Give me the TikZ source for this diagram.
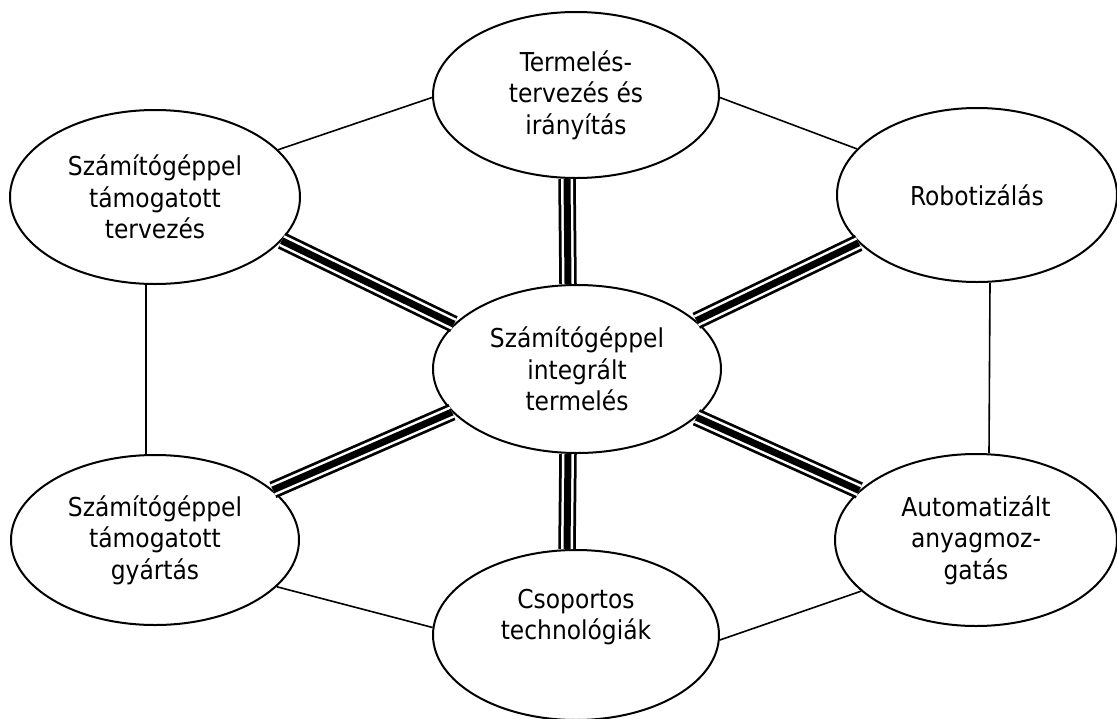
\documentclass[tikz,border=0pt]{standalone}
\usepackage{fontspec}
\setmainfont{DejaVu Sans Condensed}
\usetikzlibrary{shapes.geometric}
\begin{document}
\begin{tikzpicture}[x=1pt,y=-1pt,
  bubble/.style={draw, line width=2pt, ellipse, inner sep=0pt,
    align=center, font=\fontsize{26}{31.5}\selectfont},
  thinlink/.style={line width=1.6pt},
  tripleline/.style={preaction={draw=black, line width=17.5pt},
    draw=white, line width=12pt,
    postaction={draw=black, line width=7pt}}]
\useasboundingbox (0,0) rectangle (1117,718);
% the six surrounding fields and the centre
\node[bubble, minimum width=288pt, minimum height=168pt] (cim) at (577,369)
  {Számítógéppel\\integrált\\termelés};
\node[bubble, minimum width=286pt, minimum height=166pt] (top) at (576,95)
  {Termelés-\\tervezés és\\irányítás};
\node[bubble, minimum width=290pt, minimum height=174pt] (ul) at (155,197)
  {Számítógéppel\\támogatott\\tervezés};
\node[bubble, align=none, minimum width=280pt, minimum height=174pt] (ur) at (977,195)
  {Robotizálás};
\node[bubble, minimum width=288pt, minimum height=170pt] (ll) at (155,540)
  {Számítógéppel\\támogatott\\gyártás};
\node[bubble, minimum width=282pt, minimum height=172pt] (lr) at (976,540)
  {Automatizált\\anyagmoz-\\gatás};
\node[bubble, minimum width=286pt, minimum height=170pt] (bot) at (576,635)
  {Csoportos\\technológiák\\\strut};
% outer ring
\draw[thinlink] (top.181) -- (ul.21);
\draw[thinlink] (top.359) -- (ur.159);
\draw[thinlink] ([xshift=-9pt]ul.south) -- ([xshift=-9pt]ll.north);
\draw[thinlink] ([xshift=13pt]ur.south) -- ([xshift=13pt]lr.north);
\draw[thinlink] (ll.339) -- (bot.177);
\draw[thinlink] (lr.204) -- (bot.358);
% spokes from the centre
\draw[tripleline] ([xshift=-9pt]cim.north) -- ([xshift=-9pt]top.south);
\draw[tripleline] ([xshift=-9pt]cim.south) -- ([xshift=-9pt]bot.north);
\draw[tripleline] (cim.160) -- (ul.341);
\draw[tripleline] (cim.22.6) -- (ur.202.6);
\draw[tripleline] (cim.199) -- (ll.23);
\draw[tripleline] (cim.338.6) -- (lr.157);
\end{tikzpicture}
\end{document}
